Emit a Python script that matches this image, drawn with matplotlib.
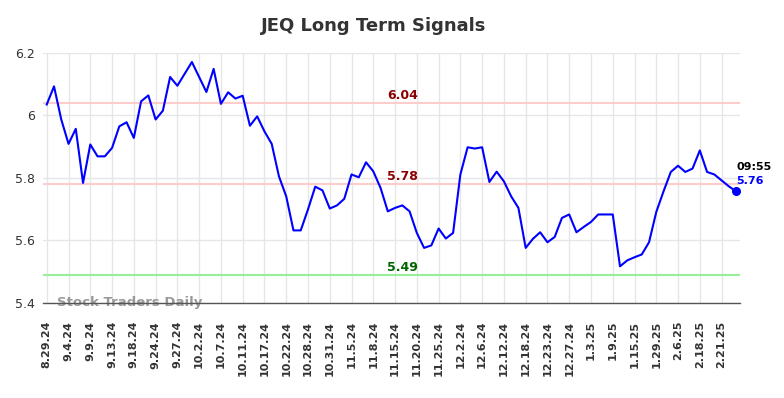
import matplotlib
matplotlib.use("Agg")
import matplotlib.pyplot as plt

title = "JEQ Long Term Signals"
prices = [
    6.035, 6.093, 5.987, 5.909, 5.957, 5.784, 5.907, 5.869, 5.869, 5.896,
    5.965, 5.978, 5.928, 6.045, 6.064, 5.987, 6.015, 6.123, 6.095, 6.133,
    6.171, 6.123, 6.075, 6.149, 6.037, 6.074, 6.054, 6.063, 5.967, 5.997,
    5.949, 5.909, 5.805, 5.741, 5.632, 5.632, 5.699, 5.772, 5.760, 5.702,
    5.712, 5.733, 5.811, 5.802, 5.850, 5.821, 5.768, 5.693, 5.704, 5.712,
    5.693, 5.624, 5.576, 5.584, 5.638, 5.606, 5.624, 5.811, 5.898, 5.894,
    5.898, 5.787, 5.820, 5.789, 5.741, 5.704, 5.576, 5.605, 5.626, 5.594,
    5.611, 5.672, 5.683, 5.626, 5.643, 5.659, 5.683, 5.683, 5.683, 5.517,
    5.536, 5.546, 5.555, 5.594, 5.691, 5.757, 5.819, 5.839, 5.819, 5.830,
    5.888, 5.819, 5.811, 5.792, 5.773, 5.757,
]
tick_labels = [
    "8.29.24", "9.4.24", "9.9.24", "9.13.24", "9.18.24", "9.24.24", "9.27.24",
    "10.2.24", "10.7.24", "10.11.24", "10.17.24", "10.22.24", "10.28.24",
    "10.31.24", "11.5.24", "11.8.24", "11.15.24", "11.20.24", "11.25.24",
    "12.2.24", "12.6.24", "12.12.24", "12.18.24", "12.23.24", "12.27.24",
    "1.3.25", "1.9.25", "1.15.25", "1.29.25", "2.6.25", "2.18.25", "2.21.25",
]
tick_step = 3
levels = [6.04, 5.78, 5.49]
level_labels = ["6.04", "5.78", "5.49"]
level_line_colors = ["#ffcccc", "#ffcccc", "#99ee99"]
level_text_colors = ["#8b0000", "#8b0000", "#006400"]
last_time = "09:55"
last_label = "5.76"
y_ticks = [5.4, 5.6, 5.8, 6.0, 6.2]
y_tick_labels = ["5.4", "5.6", "5.8", "6", "6.2"]

fig = plt.figure(figsize=(7.84, 3.98), dpi=100)
ax = fig.add_axes([0.055, 0.239, 0.889, 0.628])

x = list(range(len(prices)))
ax.set_xlim(-0.5, len(prices) - 0.45)
ax.set_ylim(5.4, 6.2)

for lv, lc, tc, lt in zip(levels, level_line_colors, level_text_colors, level_labels):
    ax.axhline(lv, color=lc, lw=1.5, zorder=2)
    ax.text(49.0, lv + 0.004, lt, color=tc, fontsize=9, fontweight="bold",
            ha="center", va="bottom", zorder=4)

ax.plot(x, prices, color="#0000ff", lw=1.5, zorder=3)
ax.plot(x[-1], prices[-1], "o", color="#0000ff", ms=5.5, zorder=5)
ax.annotate(last_time, (x[-1], prices[-1]), xytext=(0, 14), textcoords="offset points",
            fontsize=8, fontweight="bold", color="black", ha="left", va="bottom")
ax.annotate(last_label, (x[-1], prices[-1]), xytext=(0, 3.5), textcoords="offset points",
            fontsize=8, fontweight="bold", color="#0000ff", ha="left", va="bottom")

tick_pos = list(range(0, len(prices), tick_step))[:len(tick_labels)]
ax.set_xticks(tick_pos)
ax.set_xticklabels(tick_labels, rotation=90, fontsize=8, fontweight="bold", color="#333333")
ax.set_yticks(y_ticks)
ax.set_yticklabels(y_tick_labels, fontsize=9, color="#333333")
ax.tick_params(axis="both", length=0, pad=6)
ax.tick_params(axis="x", pad=13)

ax.grid(True, color="#e6e6e6", lw=1, zorder=0)
ax.set_axisbelow(True)
for s in ["left", "right", "top"]:
    ax.spines[s].set_visible(False)
ax.spines["bottom"].set_color("#555555")
ax.spines["bottom"].set_linewidth(1)

ax.text(0.02, 0.0, "Stock Traders Daily", transform=ax.transAxes, fontsize=9.5,
        fontweight="bold", color="#999999", ha="left", va="center", zorder=1)

fig.text(0.477, 0.935, title, fontsize=13, fontweight="bold", color="#333333",
         ha="center", va="center")

fig.savefig("out.png", dpi=100)
